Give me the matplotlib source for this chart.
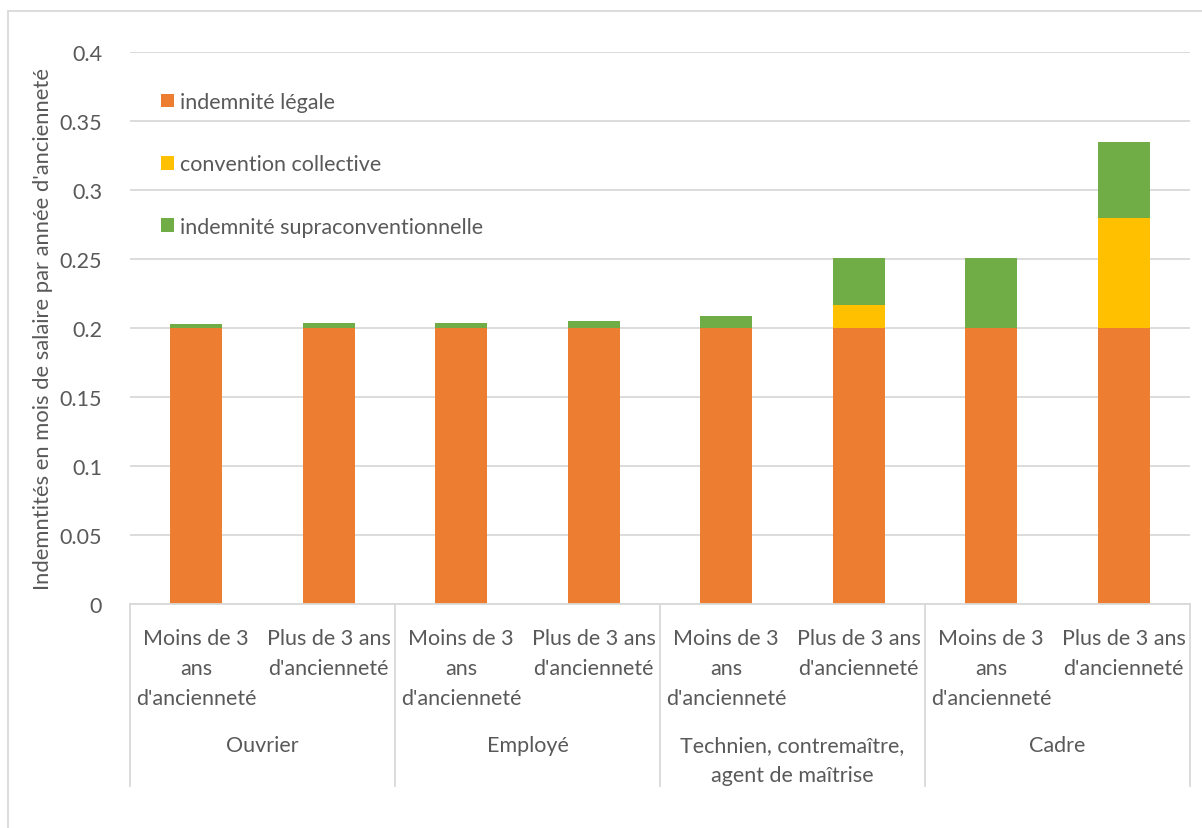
import matplotlib
matplotlib.use("Agg")
import matplotlib.pyplot as plt
from matplotlib.patches import Rectangle
from matplotlib.lines import Line2D
import numpy as np

plt.rcParams['font.family'] = ['Lato', 'DejaVu Sans']

sub_labels = ["Moins de 3\nans\nd'ancienneté", "Plus de 3 ans\nd'ancienneté"] * 4
groups = ["Ouvrier", "Employé", "Technien, contremaître,\nagent de maîtrise", "Cadre"]
series_names = ["indemnité légale", "convention collective", "indemnité supraconventionnelle"]
legale = [0.2, 0.2, 0.2, 0.2, 0.2, 0.2, 0.2, 0.2]
convention = [0.0, 0.0, 0.0, 0.0, 0.0, 0.0166, 0.0, 0.08]
supra = [0.003, 0.0036, 0.0036, 0.005, 0.0085, 0.034, 0.0505, 0.0548]
yticks = [0, 0.05, 0.1, 0.15, 0.2, 0.25, 0.3, 0.35, 0.4]
ytick_labels = ["0", "0.05", "0.1", "0.15", "0.2", "0.25", "0.3", "0.35", "0.4"]
ylabel = "Indemntités en mois de salaire par année d'ancienneté"

colors = ["#ED7D31", "#FFC000", "#70AD47"]
txt = "#595959"
grid = "#D9D9D9"

W, H = 1202, 829
fig = plt.figure(figsize=(W / 100, H / 100), dpi=100)
ax = fig.add_axes([130 / W, 1 - 605 / H, (1190 - 130) / W, (605 - 53) / H])

x = np.arange(len(legale))
bw = 0.395
b1 = np.array(legale)
b2 = b1 + np.array(convention)
ax.bar(x, legale, bw, color=colors[0], label=series_names[0], zorder=3)
ax.bar(x, convention, bw, bottom=b1, color=colors[1], label=series_names[1], zorder=3)
ax.bar(x, supra, bw, bottom=b2, color=colors[2], label=series_names[2], zorder=3)

ax.set_xlim(-0.5, len(legale) - 0.5)
ax.set_ylim(0, 0.4)
ax.set_yticks(yticks)
ax.set_yticklabels(ytick_labels, color=txt, fontsize=15.5)
ax.tick_params(axis='y', length=0, pad=20)
ax.tick_params(axis='x', length=0)
ax.set_xticks([])
ax.grid(axis='y', color=grid, linewidth=1.3, zorder=0)
for s in ['top', 'right', 'left']:
    ax.spines[s].set_visible(False)
ax.spines['bottom'].set_color(grid)
ax.spines['bottom'].set_linewidth(1.3)
ax.spines['bottom'].set_zorder(4)

ax.set_ylabel(ylabel, color=txt, fontsize=15.8)
ax.yaxis.set_label_coords(-77 / 1060, 0.5)

FS = 15.5
LS = 1.62
tr = ax.get_xaxis_transform()
for i, lab in enumerate(sub_labels):
    ax.text(i, -24 / 552, lab, transform=tr, ha='center', va='top', color=txt,
            fontsize=FS, linespacing=LS)
for g, lab in enumerate(groups):
    ax.text(2 * g + 0.5, -131 / 552, lab, transform=tr, ha='center', va='top', color=txt,
            fontsize=FS, linespacing=LS)
for b in [-0.5, 1.5, 3.5, 5.5, 7.5]:
    ax.add_line(Line2D([b, b], [0, -182 / 552], transform=tr, color=grid, lw=1.3, clip_on=False))

leg = ax.legend(loc='upper left', bbox_to_anchor=(31 / 1060, (605 - 93) / 552), frameon=False,
                fontsize=FS, labelspacing=1.97, handlelength=0.6, handleheight=0.6,
                handletextpad=0.3, borderpad=0, borderaxespad=0)
for t in leg.get_texts():
    t.set_color(txt)

fig.add_artist(Rectangle((8 / W, -0.1), 1.2, 1 - 12 / H + 0.1, transform=fig.transFigure,
                         fill=False, edgecolor=grid, lw=1.3))

fig.savefig("out.png", dpi=100)
